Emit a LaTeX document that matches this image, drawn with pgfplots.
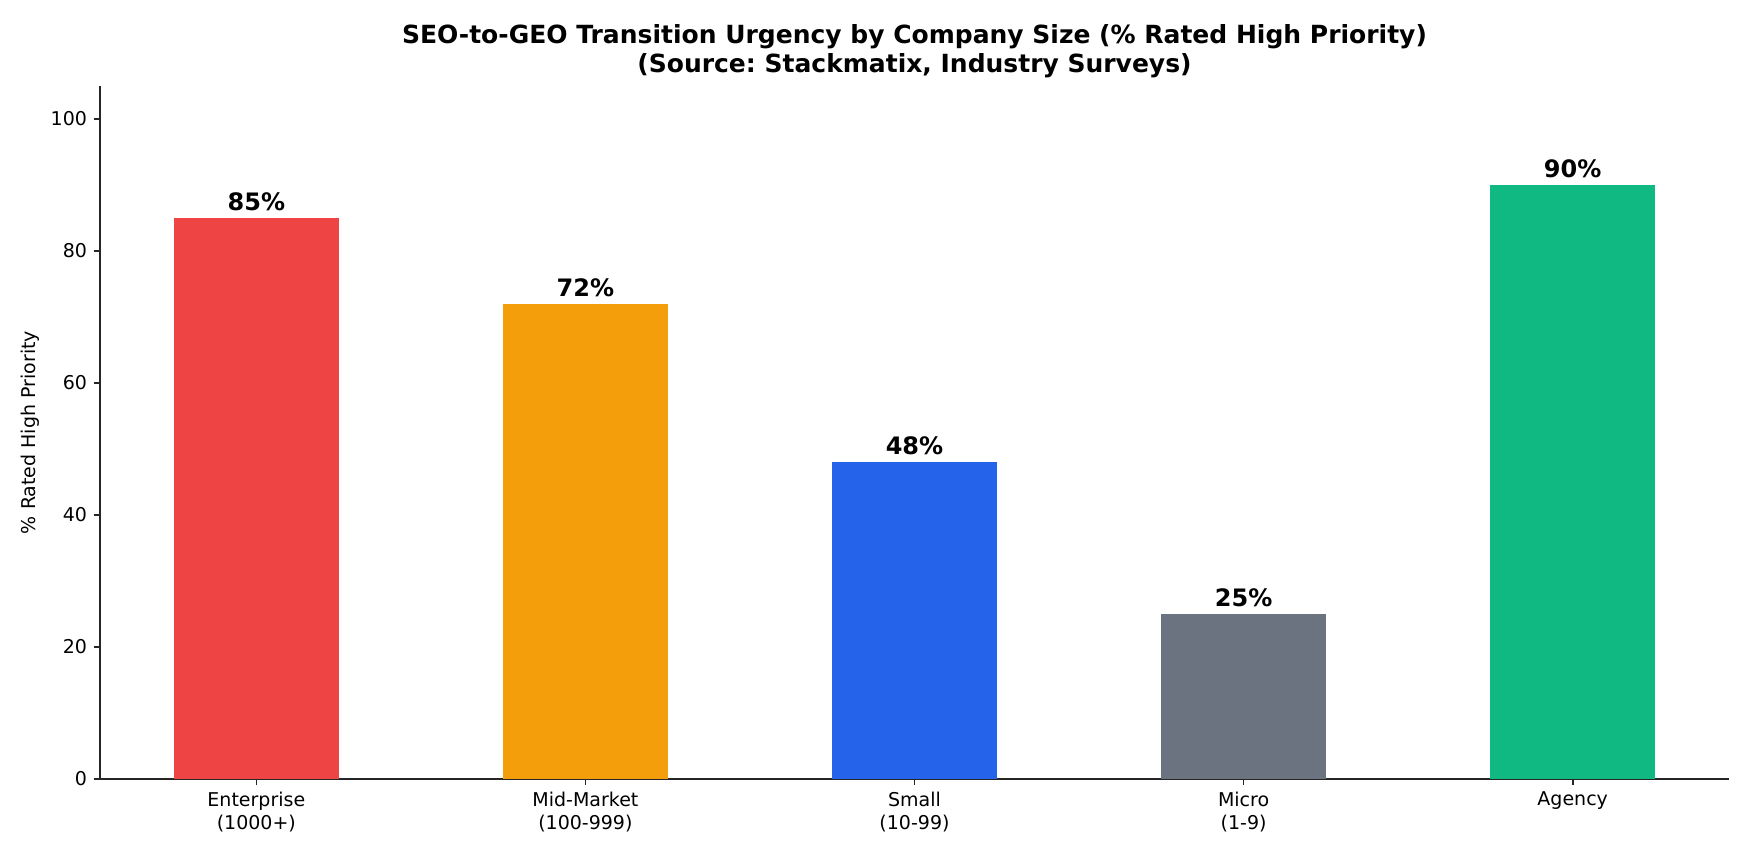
\documentclass[border=0pt]{standalone}
\usepackage{pgfplots}
\pgfplotsset{compat=1.18}
\usepackage{fontspec}
\setmainfont{DejaVu Sans}
\frenchspacing
\definecolor{cred}{HTML}{EF4444}
\definecolor{camber}{HTML}{F59E0B}
\definecolor{cblue}{HTML}{2563EB}
\definecolor{cgray}{HTML}{6B7280}
\definecolor{cgreen}{HTML}{10B981}
\definecolor{spine}{HTML}{262626}
\begin{document}
\begin{tikzpicture}
\begin{axis}[
  name=ax,
  at={(0,0)}, anchor=south west,
  scale only axis,
  width=814.5pt, height=346.5pt,
  xmin=-0.475, xmax=4.475,
  ymin=0, ymax=105,
  axis lines=left,
  axis line style={-, spine, line width=0.8pt},
  every tick/.style={spine, line width=0.8pt},
  tick align=outside,
  major tick length=3pt,
  xtick={0,1,2,3,4},
  xticklabels={{Enterprise\\(1000+)},{Mid-Market\\(100-999)},{Small\\(10-99)},{Micro\\(1-9)},{Agency}},
  xticklabel style={align=center, font=\fontsize{9.5}{11.5}\selectfont},
  ytick={0,20,40,60,80,100},
  yticklabel style={font=\fontsize{9.5}{11}\selectfont},
  /pgf/number format/assume math mode=true,
  ylabel={\% Rated High Priority},
  every axis y label/.style={at={(axis description cs:-0.0430,0.5)}, anchor=center, rotate=90, font=\fontsize{9.5}{11}\selectfont},
  ybar, bar shift=0pt, bar width=0.5,
  nodes near coords={\pgfmathprintnumber{\pgfplotspointmeta}\%},
  every node near coord/.append style={font=\fontsize{12}{14}\selectfont\bfseries, text=black},
  clip=false,
]
\addplot[fill=cred, draw=none] coordinates {(0,85)};
\addplot[fill=camber, draw=none] coordinates {(1,72)};
\addplot[fill=cblue, draw=none] coordinates {(2,48)};
\addplot[fill=cgray, draw=none] coordinates {(3,25)};
\addplot[fill=cgreen, draw=none] coordinates {(4,90)};
\end{axis}
\node[anchor=base, font=\fontsize{12.5}{15}\selectfont\bfseries] at ([yshift=21pt]ax.north) {SEO-to-GEO Transition Urgency by Company Size (\% Rated High Priority)};
\node[anchor=base, font=\fontsize{12.5}{15}\selectfont\bfseries] at ([yshift=6.5pt]ax.north) {(Source: Stackmatix, Industry Surveys)};
\pgfresetboundingbox
\path[use as bounding box] (-50pt,-41pt) rectangle (825pt,389.5pt);
\end{tikzpicture}
\end{document}
